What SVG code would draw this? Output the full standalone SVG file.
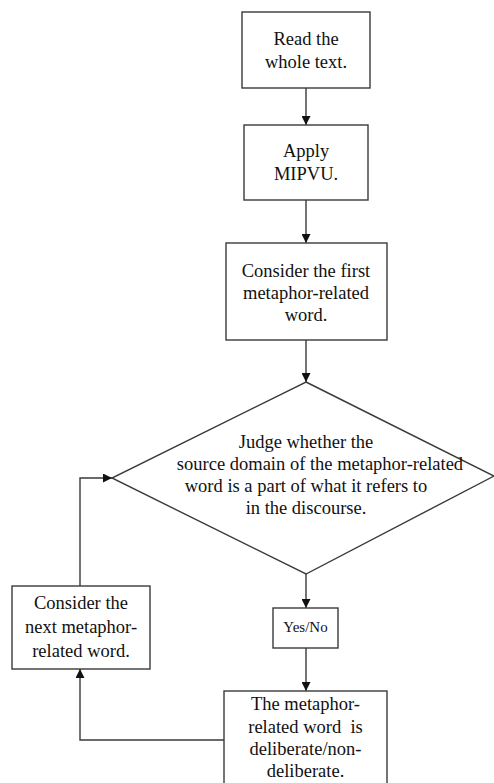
<svg xmlns="http://www.w3.org/2000/svg" width="494" height="783" viewBox="0 0 494 783">
<defs>
<style>
.box{fill:#fff;stroke:#3a3a3a;stroke-width:1.4}
.ln{fill:none;stroke:#3a3a3a;stroke-width:1.4}
.t{font-family:'Liberation Serif','Times New Roman',Times,serif;font-size:18.5px;fill:#111;text-anchor:middle}
.sm{font-size:15px}
</style>
<marker id="ah" viewBox="0 0 10 10" refX="10" refY="5" markerWidth="9" markerHeight="9" markerUnits="userSpaceOnUse" orient="auto">
<path d="M0,0 L10,5 L0,10 Z" fill="#111"/>
</marker>
</defs>
<rect width="494" height="783" fill="#fff"/>
<g id="connectors">
<line class="ln" x1="306" y1="88" x2="306" y2="125" marker-end="url(#ah)"/>
<line class="ln" x1="306" y1="200" x2="306" y2="243" marker-end="url(#ah)"/>
<line class="ln" x1="306" y1="340" x2="306" y2="382" marker-end="url(#ah)"/>
<line class="ln" x1="306" y1="574" x2="306" y2="608" marker-end="url(#ah)"/>
<line class="ln" x1="306" y1="648" x2="306" y2="691" marker-end="url(#ah)"/>
<polyline class="ln" points="224,740 80,740 80,669" marker-end="url(#ah)"/>
<polyline class="ln" points="80,586 80,478 112,478" marker-end="url(#ah)"/>
</g>
<g class="t" font-family="Liberation Serif, serif">
<g id="read">
<rect class="box" x="242" y="12" width="128" height="76"/>
<text x="306" y="45">Read the</text>
<text x="306" y="68">whole text.</text>
</g>
<g id="apply">
<rect class="box" x="244" y="125" width="124" height="75"/>
<text x="306" y="157">Apply</text>
<text x="306" y="180">MIPVU.</text>
</g>
<g id="first">
<rect class="box" x="226" y="243" width="161" height="97"/>
<text x="306" y="277">Consider the first</text>
<text x="306" y="299">metaphor-related</text>
<text x="306" y="321">word.</text>
</g>
<g id="judge">
<polygon class="box" points="306,382 494,476 306,574 112,478"/>
<text x="306" y="448">Judge whether the</text>
<text x="320" y="470">source domain of the metaphor-related</text>
<text x="306" y="492">word is a part of what it refers to</text>
<text x="306" y="514">in the discourse.</text>
</g>
<g id="yesno">
<rect class="box" x="273" y="608" width="65" height="40"/>
<text class="sm" x="305.5" y="632">Yes/No</text>
</g>
<g id="result">
<rect class="box" x="224" y="691" width="163" height="100"/>
<text x="305.5" y="710">The metaphor-</text>
<text x="305.5" y="733" xml:space="preserve">related word  is</text>
<text x="305.5" y="755">deliberate/non-</text>
<text x="305.5" y="777">deliberate.</text>
</g>
<g id="next">
<rect class="box" x="12" y="586" width="138" height="83"/>
<text x="81" y="609">Consider the</text>
<text x="81" y="633">next metaphor-</text>
<text x="81" y="657">related word.</text>
</g>
</g>
</svg>
